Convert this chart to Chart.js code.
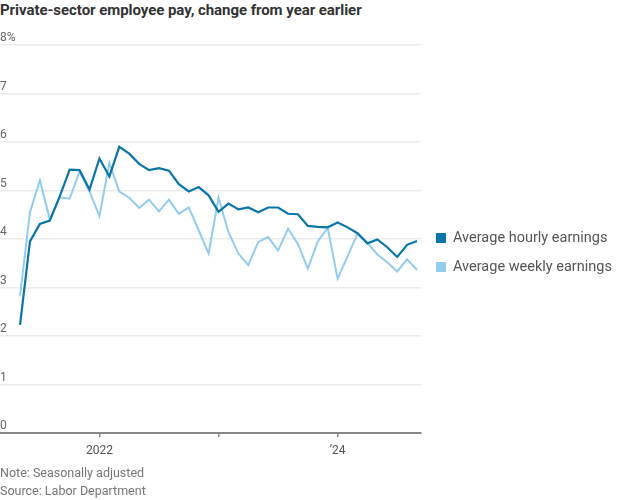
<!DOCTYPE html>
<html>
<head>
<meta charset="utf-8">
<script src="https://cdn.jsdelivr.net/npm/chart.js@4.4.1/dist/chart.umd.min.js"></script>
<style>
  html, body { margin: 0; padding: 0; background: #fff; }
  body { width: 620px; height: 500px; position: relative; overflow: hidden; font-family: Roboto, "Noto Sans", sans-serif; }
  #c { position: absolute; left: 0; top: 0; }
  .title { position: absolute; left: 0; top: 1px; font-size: 15px; font-weight: bold; color: #333; white-space: nowrap; letter-spacing: -0.05px; }
  .note { position: absolute; left: 0; font-size: 12.5px; color: #777; white-space: nowrap; }
  .leg { position: absolute; left: 436px; font-size: 14.5px; color: #555; white-space: nowrap; }
  .leg span.sw { display: inline-block; width: 10px; height: 10px; margin-right: 7px; vertical-align: -1px; }
</style>
</head>
<body>
<div class="title">Private-sector employee pay, change from year earlier</div>
<canvas id="c" width="620" height="500"></canvas>
<div class="leg" style="top:229px"><span class="sw" style="background:#0a75a8"></span>Average hourly earnings</div>
<div class="leg" style="top:258px"><span class="sw" style="background:#92cdf0"></span>Average weekly earnings</div>
<div class="note" style="top:465px">Note: Seasonally adjusted</div>
<div class="note" style="top:483px">Source: Labor Department</div>
<script>
// Months from May 2021 to Sep 2024
const months = [
  '2021-05','2021-06','2021-07','2021-08','2021-09','2021-10','2021-11','2021-12',
  '2022-01','2022-02','2022-03','2022-04','2022-05','2022-06','2022-07','2022-08','2022-09','2022-10','2022-11','2022-12',
  '2023-01','2023-02','2023-03','2023-04','2023-05','2023-06','2023-07','2023-08','2023-09','2023-10','2023-11','2023-12',
  '2024-01','2024-02','2024-03','2024-04','2024-05','2024-06','2024-07','2024-08','2024-09'
];
const hourly = [
  2.23, 3.95, 4.31, 4.38, 4.88, 5.43, 5.42, 5.02,
  5.66, 5.29, 5.90, 5.76, 5.55, 5.42, 5.46, 5.41, 5.13, 4.98, 5.07, 4.90,
  4.56, 4.73, 4.61, 4.65, 4.55, 4.65, 4.65, 4.52, 4.51, 4.27, 4.25, 4.24,
  4.34, 4.24, 4.12, 3.91, 3.99, 3.83, 3.63, 3.88, 3.96
];
const weekly = [
  2.83, 4.55, 5.21, 4.40, 4.86, 4.83, 5.39, 4.98,
  4.47, 5.57, 4.98, 4.85, 4.64, 4.81, 4.57, 4.81, 4.52, 4.65, 4.18, 3.70,
  4.85, 4.14, 3.70, 3.46, 3.94, 4.04, 3.76, 4.21, 3.90, 3.39, 3.95, 4.23,
  3.18, 3.64, 4.11, 3.92, 3.68, 3.52, 3.33, 3.58, 3.36
];
const seriesNames = ['Average hourly earnings', 'Average weekly earnings'];
const yTicks = [0, 1, 2, 3, 4, 5, 6, 7, 8];
const xTickMonths = ['2022-01', '2023-01', '2024-01'];
const xTickLabels = ['2022', '', '\u201924'];

const idx = m => months.indexOf(m);
const toPts = arr => arr.map((v, i) => ({ x: i, y: v }));

new Chart(document.getElementById('c'), {
  type: 'line',
  data: {
    datasets: [
      { label: seriesNames[0], data: toPts(hourly), borderColor: '#0a75a8', borderWidth: 2.2, pointRadius: 0, tension: 0 },
      { label: seriesNames[1], data: toPts(weekly), borderColor: '#92cdf0', borderWidth: 2, pointRadius: 0, tension: 0 }
    ]
  },
  options: {
    responsive: false,
    animation: false,
    layout: { padding: { left: 0, right: 199, top: 45, bottom: 0 } },
    plugins: { legend: { display: false }, tooltip: { enabled: false } },
    scales: {
      x: {
        type: 'linear',
        min: -2.02,
        max: 40.4,
        afterFit: s => { s.height = 67; },
        afterBuildTicks: s => { s.ticks = xTickMonths.map(m => ({ value: idx(m) })); },
        grid: { drawOnChartArea: false, drawTicks: true, tickLength: 4, color: '#888', lineWidth: 1.5 },
        border: { display: true, color: '#888', width: 2 },
        ticks: {
          padding: 7,
          maxRotation: 0,
          autoSkip: false,
          color: '#555',
          font: { family: 'Roboto', size: 12 },
          callback: v => { const k = xTickMonths.indexOf(months[v]); return k >= 0 ? xTickLabels[k] : ''; }
        }
      },
      y: {
        min: 0,
        max: 8,
        afterFit: s => { s.width = 0; },
        afterBuildTicks: s => { s.ticks = yTicks.map(v => ({ value: v })); },
        grid: { drawTicks: false, color: '#ebebeb', lineWidth: 1.5 },
        border: { display: false },
        ticks: {
          mirror: true,
          padding: 0,
          labelOffset: -7,
          color: '#666',
          font: { family: 'Roboto', size: 12 },
          callback: v => v === 8 ? '8%' : String(v)
        }
      }
    }
  }
});
</script>
</body>
</html>
